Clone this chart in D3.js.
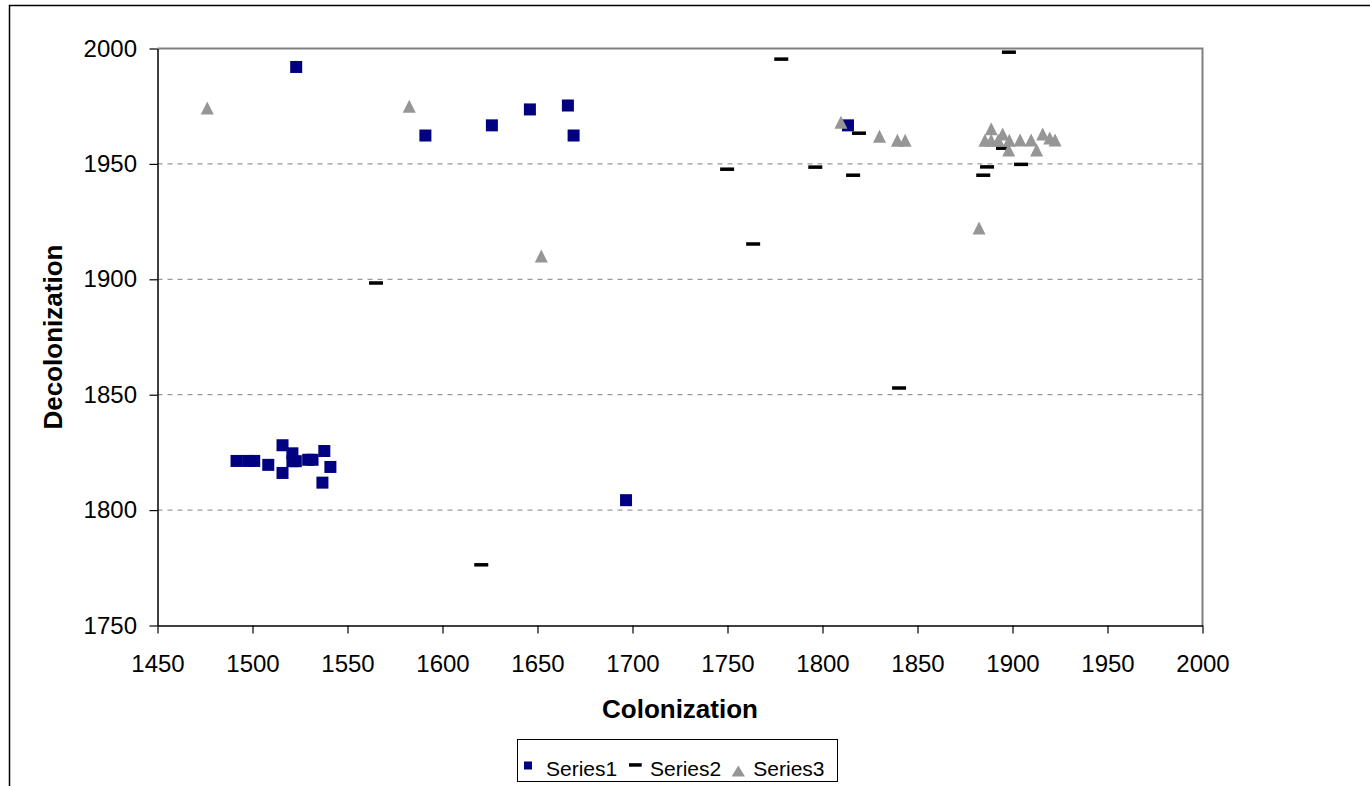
<!DOCTYPE html>
<html>
<head>
<meta charset="utf-8">
<script src="https://cdn.jsdelivr.net/npm/d3@7"></script>
<style>
  html, body { margin: 0; padding: 0; background: #fff; }
  svg { display: block; font-family: "Liberation Sans", Arial, sans-serif; }
</style>
</head>
<body>
<svg id="chart" width="1370" height="786"></svg>
<script>
// Year of colonization (x) and of decolonization (y) for each territory
const series1Colonization   = [1491.6, 1497.7, 1500.9, 1508.3, 1515.8, 1515.8, 1521, 1521, 1522.8, 1529.3, 1531.6, 1537.8, 1541, 1536.8, 1523, 1591, 1626, 1646, 1666, 1669, 1696.6, 1813.4];
const series1Decolonization = [1821.3, 1821.3, 1821.3, 1819.6, 1828.1, 1816.1, 1824.6, 1821.2, 1821.2, 1821.8, 1821.8, 1825.6, 1818.7, 1811.9, 1992, 1962.3, 1966.7, 1973.6, 1975.3, 1962.3, 1804.3, 1966.7];

const series2Colonization   = [1565, 1620.4, 1749.8, 1763.5, 1778.3, 1796.2, 1816.1, 1819.2, 1840.3, 1884.6, 1886.6, 1895, 1898.1, 1904.5];
const series2Decolonization = [1898.4, 1776.3, 1947.7, 1915.3, 1995.4, 1948.6, 1945.1, 1963.3, 1852.9, 1945.1, 1948.7, 1956.8, 1998.4, 1949.8];

const series3Colonization   = [1476.2, 1582.5, 1652, 1809.7, 1830, 1839.4, 1843.5, 1882.4, 1885.5, 1888.8, 1892.5, 1888.8, 1894.8, 1898.3, 1898, 1904, 1909.8, 1912.7, 1915.9, 1919.6, 1922.4];
const series3Decolonization = [1974.2, 1975, 1910.1, 1968, 1962, 1960.3, 1960.3, 1922.2, 1960.3, 1965.2, 1960.3, 1960.3, 1963, 1960.2, 1956, 1960.4, 1960.4, 1956, 1963, 1961.2, 1960.4];

const xTicks = [1450, 1500, 1550, 1600, 1650, 1700, 1750, 1800, 1850, 1900, 1950, 2000];
const yTicks = [1750, 1800, 1850, 1900, 1950, 2000];
const seriesNames = ["Series1", "Series2", "Series3"];

const zip = (xs, ys) => xs.map((v, i) => ({ x: v, y: ys[i] }));
const s1 = zip(series1Colonization, series1Decolonization);
const s2 = zip(series2Colonization, series2Decolonization);
const s3 = zip(series3Colonization, series3Decolonization);

const svg = d3.select("#chart");

// outer chart frame
svg.append("rect")
  .attr("x", 9.5).attr("y", 5.5)
  .attr("width", 1400).attr("height", 800)
  .attr("fill", "#fff").attr("stroke", "#000").attr("stroke-width", 1.5);

const x = d3.scaleLinear().domain([1450, 2000]).range([157.5, 1202.5]);
const y = d3.scaleLinear().domain([1750, 2000]).range([625.5, 48.5]);

// dashed horizontal gridlines
svg.append("g")
  .selectAll("line")
  .data(yTicks.filter(t => t > 1750 && t < 2000))
  .join("line")
  .attr("x1", x(1450)).attr("x2", x(2000))
  .attr("y1", d => y(d)).attr("y2", d => y(d))
  .attr("stroke", "#808080").attr("stroke-width", 1)
  .attr("stroke-dasharray", "5,5");

// plot area frame (top and right)
svg.append("path")
  .attr("d", `M${x(1450)},${y(2000)}H${x(2000)}V${y(1750)}`)
  .attr("fill", "none").attr("stroke", "#808080").attr("stroke-width", 2);

// axes
const xAxis = svg.append("g")
  .attr("transform", `translate(0,${y(1750)})`)
  .call(d3.axisBottom(x).tickValues(xTicks).tickFormat(d3.format("d")).tickSize(8).tickPadding(21).tickSizeOuter(0));
const yAxis = svg.append("g")
  .attr("transform", `translate(${x(1450)},0)`)
  .call(d3.axisLeft(y).tickValues(yTicks).tickFormat(d3.format("d")).tickSize(8).tickPadding(12.5).tickSizeOuter(0));

[xAxis, yAxis].forEach(g => {
  g.select(".domain").attr("stroke", "#000").attr("stroke-width", 1.5);
  g.selectAll(".tick line").attr("stroke", "#000").attr("stroke-width", 1.2);
  g.selectAll(".tick text")
    .attr("fill", "#000")
    .style("font-size", "24px")
    .style("font-family", "'Liberation Sans', Arial, sans-serif");
});
xAxis.attr("font-size", null).attr("font-family", null);
yAxis.attr("font-size", null).attr("font-family", null);

// axis titles
svg.append("text")
  .attr("x", (x(1450) + x(2000)) / 2).attr("y", 718)
  .attr("text-anchor", "middle")
  .style("font-size", "26px").style("font-weight", "bold")
  .text("Colonization");
svg.append("text")
  .attr("transform", `translate(62,${(y(1750) + y(2000)) / 2}) rotate(-90)`)
  .attr("text-anchor", "middle")
  .style("font-size", "26px").style("font-weight", "bold")
  .text("Decolonization");

// marker shapes
const square = 12, dashW = 14, dashH = 3.5, tri = 6.5;
const triPath = (cx, cy, h) => `M${cx},${cy - h}L${cx + h},${cy + h}L${cx - h},${cy + h}Z`;

svg.append("g").selectAll("rect")
  .data(s1).join("rect")
  .attr("x", d => x(d.x) - square / 2).attr("y", d => y(d.y) - square / 2)
  .attr("width", square).attr("height", square)
  .attr("fill", "#000080");

svg.append("g").selectAll("rect")
  .data(s2).join("rect")
  .attr("x", d => x(d.x) - dashW / 2).attr("y", d => y(d.y) - dashH / 2)
  .attr("width", dashW).attr("height", dashH)
  .attr("fill", "#000");

svg.append("g").selectAll("path")
  .data(s3).join("path")
  .attr("d", d => triPath(x(d.x), y(d.y), tri))
  .attr("fill", "#969696");

// legend
const legend = svg.append("g");
legend.append("rect")
  .attr("x", 517.5).attr("y", 739.5).attr("width", 320).attr("height", 42)
  .attr("fill", "#fff").attr("stroke", "#000").attr("stroke-width", 1);
legend.append("rect").attr("x", 524).attr("y", 761.5).attr("width", 8).attr("height", 8).attr("fill", "#000080");
legend.append("rect").attr("x", 629).attr("y", 763.2).attr("width", 12.7).attr("height", 3.5).attr("fill", "#000");
legend.append("path").attr("d", "M738.3,765.5L745,776.5L731.6,776.5Z").attr("fill", "#969696");
const legendX = [546, 650, 753.3];
legend.selectAll("text")
  .data(seriesNames).join("text")
  .attr("x", (d, i) => legendX[i]).attr("y", 775.5)
  .style("font-size", "21px")
  .text(d => d);
</script>
</body>
</html>
